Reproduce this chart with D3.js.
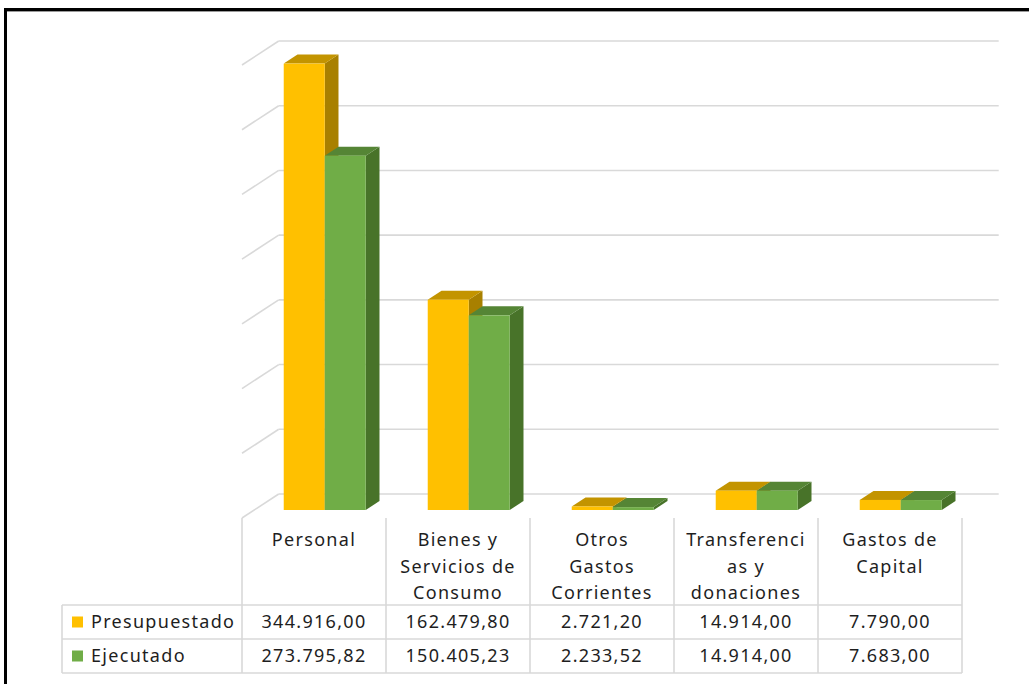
<!DOCTYPE html>
<html>
<head>
<meta charset="utf-8">
<script src="https://cdn.jsdelivr.net/npm/d3@7"></script>
<style>
  body { margin: 0; background: #fff; }
  text { font-family: "Noto Sans", sans-serif; fill: #1e1e1e; }
</style>
</head>
<body>
<script>
// data
var categories = ["Personal", "Bienes y Servicios de Consumo", "Otros Gastos Corrientes", "Transferencias y donaciones", "Gastos de Capital"];
var headerLines = [["Personal"], ["Bienes y", "Servicios de", "Consumo"], ["Otros", "Gastos", "Corrientes"], ["Transferenci", "as y", "donaciones"], ["Gastos de", "Capital"]];
var seriesNames = ["Presupuestado", "Ejecutado"];
var presupuestado = [344916.00, 162479.80, 2721.20, 14914.00, 7790.00];
var ejecutado = [273795.82, 150405.23, 2233.52, 14914.00, 7683.00];
var gridTicks = [0, 50000, 100000, 150000, 200000, 250000, 300000, 350000];

var series = [presupuestado, ejecutado];
var faceColors = [
  { front: "#FFC000", top: "#C39400", side: "#A88000" },
  { front: "#70AD47", top: "#558535", side: "#487329" }
];

var W = 1029, H = 684;
var svg = d3.select("body").append("svg")
  .attr("width", W)
  .attr("height", H);

// 3d depth projection: full depth shifts right/up
var depthX = 36.7, depthY = -24;
function px(x, d) { return x + d * depthX; }
function py(y, d) { return y + d * depthY; }

var x = d3.scaleBand().domain(categories).range([242, 962]);
var xs = d3.scaleBand().domain(seriesNames).range([0, x.bandwidth()]).paddingOuter(0.756);
var y = d3.scaleLinear().domain([0, 350000]).range([518, 65]);

// frame
svg.append("line").attr("x1", 4).attr("x2", W).attr("y1", 9.5).attr("y2", 9.5)
  .attr("stroke", "#000").attr("stroke-width", 3);
svg.append("line").attr("x1", 4).attr("x2", W).attr("y1", 11.5).attr("y2", 11.5)
  .attr("stroke", "#9a9a9a").attr("stroke-width", 1);
svg.append("line").attr("x1", 5.5).attr("x2", 5.5).attr("y1", 8).attr("y2", H)
  .attr("stroke", "#000").attr("stroke-width", 3);

// back wall and side wall gridlines
var grid = svg.append("g").attr("stroke", "#d9d9d9").attr("stroke-width", 1.6).attr("fill", "none");
gridTicks.forEach(function(t) {
  grid.append("line")
    .attr("x1", px(242, 1)).attr("x2", px(962, 1))
    .attr("y1", py(y(t), 1)).attr("y2", py(y(t), 1));
  grid.append("line")
    .attr("x1", 242).attr("x2", px(242, 1))
    .attr("y1", y(t)).attr("y2", py(y(t), 1));
});

// bars
var d0 = 8 / 24, d1 = 17 / 24;
var bars = svg.append("g");
categories.forEach(function(c, i) {
  seriesNames.forEach(function(s, j) {
    var v = series[j][i];
    var xl = x(c) + xs(s) - 1.5, xr = xl + xs.bandwidth();
    var yb = y(0), yt = y(v);
    var col = faceColors[j];
    var pts = function(arr) { return arr.map(function(p) { return p.join(","); }).join(" "); };
    // side
    bars.append("polygon")
      .attr("points", pts([[px(xr, d0), py(yb, d0)], [px(xr, d1), py(yb, d1)], [px(xr, d1), py(yt, d1)], [px(xr, d0), py(yt, d0)]]))
      .attr("fill", col.side);
    // top
    bars.append("polygon")
      .attr("points", pts([[px(xl, d0), py(yt, d0)], [px(xr, d0), py(yt, d0)], [px(xr, d1), py(yt, d1)], [px(xl, d1), py(yt, d1)]]))
      .attr("fill", col.top);
    // front
    bars.append("rect")
      .attr("x", px(xl, d0)).attr("y", py(yt, d0))
      .attr("width", xs.bandwidth()).attr("height", yb - yt)
      .attr("fill", col.front);
  });
});

// data table
var fmt = d3.formatLocale({ decimal: ",", thousands: ".", grouping: [3], currency: ["", ""] }).format(",.2f");
var tbl = svg.append("g").attr("stroke", "#d9d9d9").attr("stroke-width", 1.6);
var rowY = [605, 639, 673];
rowY.forEach(function(r) {
  tbl.append("line").attr("x1", 62).attr("x2", 962).attr("y1", r).attr("y2", r);
});
tbl.append("line").attr("x1", 62).attr("x2", 62).attr("y1", 605).attr("y2", 673);
categories.forEach(function(c) {
  tbl.append("line").attr("x1", x(c)).attr("x2", x(c)).attr("y1", 518).attr("y2", 673);
});
tbl.append("line").attr("x1", 962).attr("x2", 962).attr("y1", 518).attr("y2", 673);

var txt = svg.append("g")
  .attr("font-size", 18)
  .attr("letter-spacing", "1.3px");

categories.forEach(function(c, i) {
  var cx = x(c) + x.bandwidth() / 2;
  headerLines[i].forEach(function(l, k) {
    txt.append("text")
      .attr("x", cx).attr("y", 540 + k * 26.5)
      .attr("text-anchor", "middle")
      .attr("dy", "0.35em")
      .text(l);
  });
  series.forEach(function(vals, j) {
    txt.append("text")
      .attr("x", cx).attr("y", (rowY[j] + rowY[j + 1]) / 2)
      .attr("text-anchor", "middle")
      .attr("dy", "0.35em")
      .text(fmt(vals[i]));
  });
});

seriesNames.forEach(function(s, j) {
  var cy = (rowY[j] + rowY[j + 1]) / 2;
  svg.append("rect")
    .attr("x", 72).attr("y", cy - 5.5)
    .attr("width", 11).attr("height", 11)
    .attr("fill", faceColors[j].front);
  txt.append("text")
    .attr("x", 91).attr("y", cy)
    .attr("dy", "0.35em")
    .text(s);
});
</script>
</body>
</html>
